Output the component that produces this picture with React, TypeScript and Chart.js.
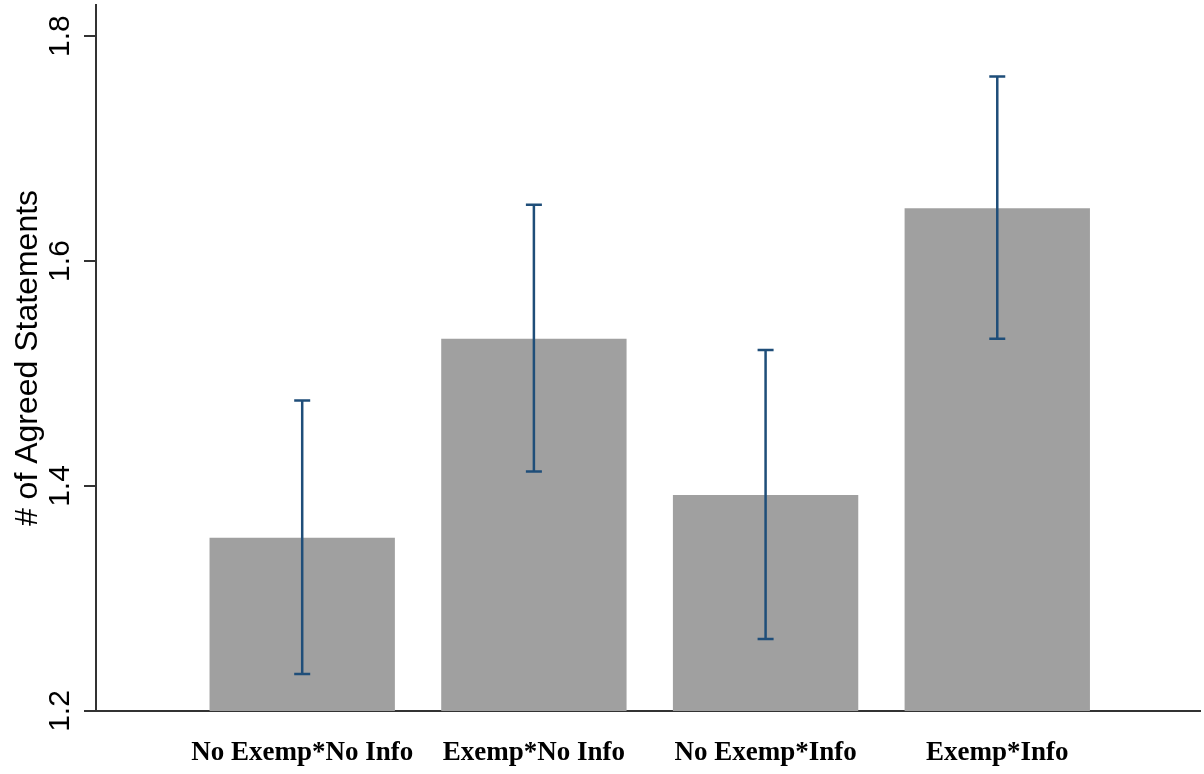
import React, { useEffect, useRef } from "react";
import { Chart, registerables } from "chart.js";

Chart.register(...registerables);

const categories = ["No Exemp*No Info", "Exemp*No Info", "No Exemp*Info", "Exemp*Info"];
const positions = [1, 2, 3, 4];
const means = [1.354, 1.531, 1.392, 1.647];
const ciLower = [1.233, 1.413, 1.264, 1.531];
const ciUpper = [1.476, 1.65, 1.521, 1.764];
const yTicks = [1.2, 1.4, 1.6, 1.8];
const yMin = 1.2;
const yMax = 1.8276;
const xMin = 0.11;
const xMax = 4.875;

const errorBarPlugin = {
  id: "errorBars",
  afterDatasetsDraw(chart: any) {
    const { ctx, scales } = chart;
    const x = scales.x;
    const y = scales.y;
    ctx.save();
    ctx.strokeStyle = "#1f4e79";
    ctx.lineWidth = 2.5;
    positions.forEach((p, i) => {
      const px = x.getPixelForValue(p);
      const top = y.getPixelForValue(ciUpper[i]);
      const bot = y.getPixelForValue(ciLower[i]);
      ctx.beginPath();
      ctx.moveTo(px, top);
      ctx.lineTo(px, bot);
      ctx.moveTo(px - 8, top);
      ctx.lineTo(px + 8, top);
      ctx.moveTo(px - 8, bot);
      ctx.lineTo(px + 8, bot);
      ctx.stroke();
    });
    ctx.restore();
  },
};

export default function App() {
  const ref = useRef<HTMLCanvasElement | null>(null);

  useEffect(() => {
    if (!ref.current) return;
    const chart = new Chart(ref.current, {
      type: "bar",
      data: {
        datasets: [
          {
            data: positions.map((p, i) => ({ x: p, y: means[i] })),
            backgroundColor: "#a0a0a0",
            borderWidth: 0,
            barPercentage: 0.8,
            categoryPercentage: 1,
          },
        ],
      },
      options: {
        responsive: false,
        animation: false,
        layout: { padding: { top: 5, right: 4, left: 0, bottom: 0 } },
        plugins: { legend: { display: false }, tooltip: { enabled: false } },
        scales: {
          x: {
            type: "linear",
            min: xMin,
            max: xMax,
            offset: false,
            afterBuildTicks: (s: any) => {
              s.ticks = positions.map((v) => ({ value: v }));
            },
            ticks: {
              callback: (v: any) => {
                const idx = positions.indexOf(Number(v));
                return idx >= 0 ? categories[idx] : "";
              },
              font: { family: "'Liberation Serif', 'Times New Roman', serif", size: 27, weight: "bold" },
              color: "#000",
              padding: 26,
              maxRotation: 0,
              minRotation: 0,
              autoSkip: false,
            },
            grid: { display: false, drawTicks: false, offset: false },
            border: { display: true, color: "#333", width: 2 },
            afterFit: (s: any) => {
              s.height = 63;
              s.paddingLeft = 0;
              s.paddingRight = 0;
            },
          },
          y: {
            type: "linear",
            min: yMin,
            max: yMax,
            afterBuildTicks: (s: any) => {
              s.ticks = yTicks.map((v) => ({ value: v }));
            },
            ticks: {
              callback: (v: any) => Number(v).toFixed(1),
              font: { family: "'Liberation Sans', Arial, sans-serif", size: 30 },
              color: "#000",
              minRotation: 90,
              maxRotation: 90,
              crossAlign: "center",
              padding: 2,
            },
            grid: {
              display: true,
              drawOnChartArea: false,
              drawTicks: true,
              tickLength: 12,
              color: "#333",
              lineWidth: 2,
            },
            border: { display: true, color: "#333", width: 2 },
            title: {
              display: true,
              text: "# of Agreed Statements",
              font: { family: "'Liberation Sans', Arial, sans-serif", size: 32 },
              color: "#000",
              padding: { top: 9, bottom: 0 },
            },
            afterFit: (s: any) => {
              s.width = 96;
              s.paddingTop = 0;
              s.paddingBottom = 0;
            },
          },
        },
      },
      plugins: [errorBarPlugin],
    } as any);
    return () => chart.destroy();
  }, []);

  return (
    <div style={{ position: "fixed", left: 0, top: 0, width: 1204, height: 774, background: "#fff" }}>
      <canvas ref={ref} width={1204} height={774} style={{ display: "block" }} />
    </div>
  );
}
